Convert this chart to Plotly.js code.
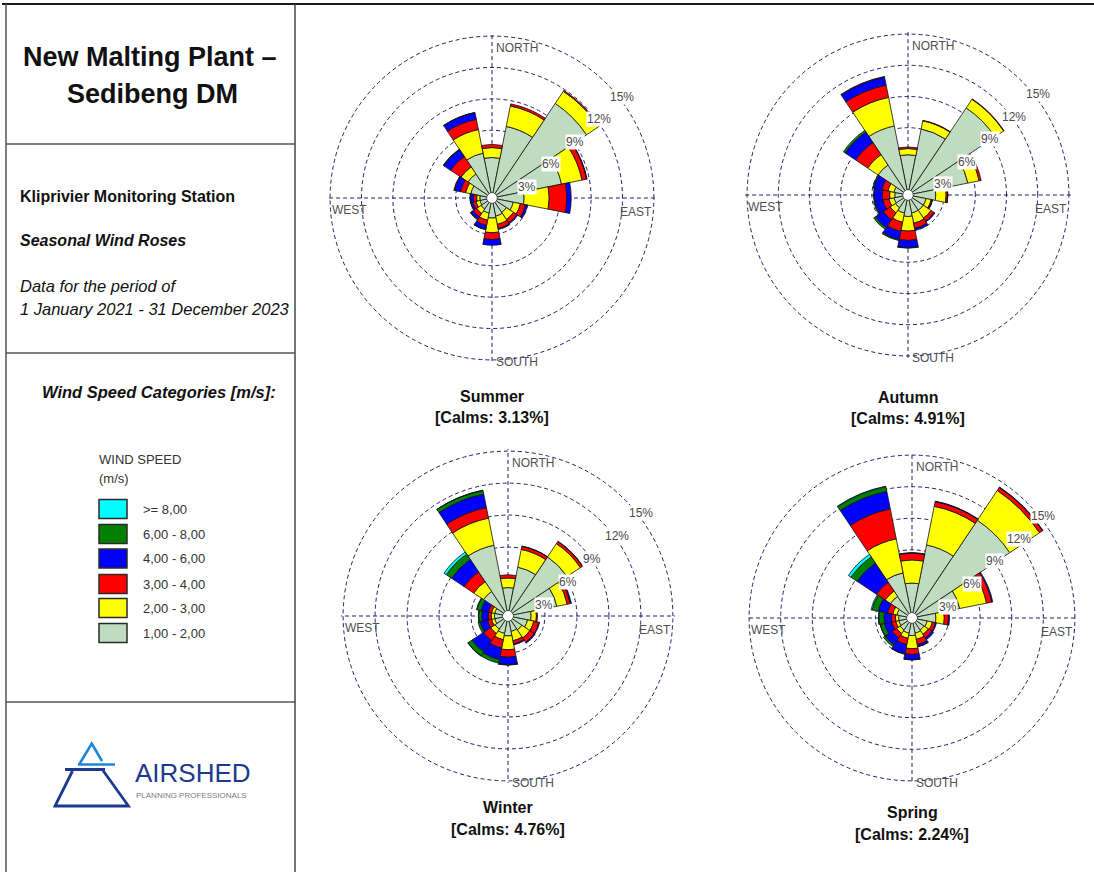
<!DOCTYPE html>
<html><head><meta charset="utf-8">
<script src="https://cdn.plot.ly/plotly-3.0.1.min.js"></script>
<style>html,body{margin:0;padding:0;background:#fff}#chart{width:1094px;height:872px}</style>
</head><body><div id="chart"></div>
<script>
const W = 1094, H = 872;

// ---------------- DATA ----------------
const directions = [0, 22.5, 45, 67.5, 90, 112.5, 135, 157.5, 180, 202.5, 225, 247.5, 270, 292.5, 315, 337.5];
const speedLabels = ['1,00 - 2,00', '2,00 - 3,00', '3,00 - 4,00', '4,00 - 6,00', '6,00 - 8,00', '>= 8,00'];
const speedColors = ['#c0dcc0', '#ffff00', '#ff0000', '#0000ff', '#008000', '#00ffff'];
const seasonNames = ['Summer', 'Autumn', 'Winter', 'Spring'];
const seasonCalms = ['3.13', '4.91', '4.76', '2.24'];
const radialTicks = [3, 6, 9, 12, 15];

// frequencies (%) by direction N..NNW for each speed class
const summer12 = [3.4, 6.5, 10.4, 6.3, 2.6, 1.6, 1.2, 1.3, 1.45, 1.0, 0.8, 0.7, 0.7, 1.6, 2.3, 3.9];
const summer23 = [0.95, 2.0, 1.4, 2.0, 2.4, 0.7, 0.8, 0.8, 1.4, 0.7, 0.5, 0.4, 0.3, 0.5, 0.8, 2.3];
const summer34 = [0.3, 0.2, 0.1, 0.45, 1.7, 0.5, 0.4, 0.4, 0.65, 0.5, 0.4, 0.3, 0.3, 0.5, 1.2, 1.0];
const summer46 = [0, 0, 0, 0.05, 0.4, 0.2, 0.1, 0.1, 0.55, 0.4, 0.3, 0.2, 0.3, 0.6, 0.8, 0.65];
const summer68 = [0, 0, 0, 0, 0, 0, 0, 0, 0, 0.02, 0.03, 0.03, 0.05, 0.05, 0.05, 0.02];
const summer8  = [0, 0, 0, 0, 0, 0, 0, 0, 0, 0, 0, 0, 0, 0, 0, 0];

const autumn12 = [3.4, 6.0, 9.6, 5.4, 2.2, 1.3, 1.3, 1.3, 1.6, 1.3, 1.0, 0.9, 0.8, 0.9, 3.0, 6.3];
const autumn23 = [0.6, 0.8, 1.0, 1.1, 1.0, 0.5, 0.9, 1.0, 1.4, 0.9, 0.6, 0.5, 0.5, 0.6, 1.2, 2.8];
const autumn34 = [0.15, 0.05, 0.05, 0.2, 0.15, 0.1, 0.35, 0.5, 0.9, 0.9, 0.8, 0.6, 0.7, 0.6, 1.4, 1.2];
const autumn46 = [0, 0, 0, 0, 0.02, 0.05, 0.1, 0.2, 0.7, 0.8, 0.9, 0.8, 0.8, 0.8, 1.2, 0.8];
const autumn68 = [0, 0, 0, 0, 0, 0, 0, 0, 0.05, 0.1, 0.2, 0.1, 0.05, 0.1, 0.2, 0.05];
const autumn8  = [0, 0, 0, 0, 0, 0, 0, 0, 0, 0, 0, 0, 0, 0, 0, 0];

const winter12 = [2.2, 4.2, 6.2, 4.2, 1.7, 1.4, 1.1, 1.0, 1.4, 1.2, 1.0, 0.8, 0.8, 0.8, 2.3, 6.3];
const winter23 = [0.9, 1.7, 1.5, 1.0, 0.5, 0.6, 0.9, 0.9, 1.3, 0.6, 0.5, 0.3, 0.3, 0.3, 1.1, 2.6];
const winter34 = [0.3, 0.3, 0.25, 0.3, 0.1, 0.5, 0.5, 0.3, 0.7, 0.8, 0.8, 0.4, 0.3, 0.3, 1.1, 1.0];
const winter46 = [0, 0.02, 0.02, 0.1, 0, 0.05, 0.1, 0.1, 0.7, 1.1, 1.3, 0.7, 0.6, 0.7, 1.4, 1.3];
const winter68 = [0, 0, 0, 0, 0, 0, 0, 0, 0.05, 0.35, 0.45, 0.2, 0.3, 0.4, 0.6, 0.35];
const winter8  = [0, 0, 0, 0, 0, 0, 0, 0, 0, 0, 0.02, 0, 0.02, 0.05, 0.25, 0.02];

const spring12 = [2.85, 6.6, 10.7, 4.15, 1.8, 1.0, 0.9, 1.0, 1.2, 1.0, 0.9, 0.8, 0.8, 1.0, 2.0, 3.9];
const spring23 = [2.2, 3.75, 3.4, 2.6, 0.8, 0.5, 0.5, 0.6, 1.25, 0.5, 0.4, 0.3, 0.3, 0.4, 0.6, 3.3];
const spring34 = [0.65, 0.45, 0.35, 0.5, 0.4, 0.3, 0.4, 0.5, 0.55, 0.6, 0.5, 0.4, 0.4, 0.5, 1.0, 2.9];
const spring46 = [0.05, 0.05, 0.05, 0.1, 0.1, 0.1, 0.2, 0.2, 0.5, 0.9, 0.8, 0.7, 0.7, 0.9, 2.2, 1.7];
const spring68 = [0, 0, 0, 0, 0, 0, 0, 0.02, 0.02, 0.05, 0.2, 0.4, 0.5, 0.6, 0.7, 0.45];
const spring8  = [0, 0, 0, 0, 0, 0, 0, 0, 0, 0, 0, 0.02, 0.02, 0.1, 0.3, 0.05];

const seasonData = [
  [summer12, summer23, summer34, summer46, summer68, summer8],
  [autumn12, autumn23, autumn34, autumn46, autumn68, autumn8],
  [winter12, winter23, winter34, winter46, winter68, winter8],
  [spring12, spring23, spring34, spring46, spring68, spring8]
];

// ---------------- LAYOUT GEOMETRY (pixels) ----------------
const roseGeom = [
  {cx: 492, cy: 198, R: 164, ty: 396},
  {cx: 908, cy: 195, R: 163, ty: 397},
  {cx: 508, cy: 616, R: 167, ty: 807},
  {cx: 912, cy: 618, R: 165, ty: 812}
];
const RMAX = 15.2, HOLE = 0.03;
const FONT = 'Liberation Sans, Arial, sans-serif';
const GRID = '#1f1f66';

const px = x => x / W;
const py = y => 1 - y / H;

const traces = [];
const layout = {
  width: W, height: H, margin: {l: 0, r: 0, t: 0, b: 0},
  paper_bgcolor: '#ffffff', showlegend: false,
  font: {family: FONT},
  shapes: [], annotations: []
};

roseGeom.forEach((g, i) => {
  const key = i === 0 ? 'polar' : 'polar' + (i + 1);
  seasonData[i].forEach((vals, k) => {
    traces.push({
      type: 'barpolar', subplot: key, r: vals, theta: directions,
      name: speedLabels[k],
      marker: {color: speedColors[k], line: {color: '#111111', width: 0.8}},
      hovertemplate: seasonNames[i] + ' %{theta}°: %{r}%<extra>' + speedLabels[k] + '</extra>'
    });
  });
  layout[key] = {
    domain: {x: [px(g.cx - g.R), px(g.cx + g.R)], y: [py(g.cy + g.R), py(g.cy - g.R)]},
    hole: HOLE, bargap: 0, barmode: 'stack', bgcolor: 'rgba(0,0,0,0)',
    radialaxis: {range: [0, RMAX], tickvals: radialTicks, showticklabels: false, ticks: '',
      showline: false, gridcolor: GRID, griddash: '4px,3px', gridwidth: 1.4},
    angularaxis: {direction: 'clockwise', rotation: 90, tickmode: 'array', tickvals: [0, 90, 180, 270],
      showticklabels: false, ticks: '', showline: false, gridcolor: GRID, griddash: '4px,3px', gridwidth: 1.4}
  };
  const rpx = v => g.R * (HOLE + (1 - HOLE) * v / RMAX);
  const f = rpx(15) / 162;
  // radial percentage labels
  radialTicks.forEach(v => {
    const rr = rpx(v);
    layout.annotations.push({
      xref: 'paper', yref: 'paper', x: px(g.cx + 8 * f + 0.756 * rr), y: py(g.cy + 15 * f - 0.719 * rr),
      text: v + '%', showarrow: false, bgcolor: '#ffffff', borderpad: 0,
      font: {size: 12, color: '#4a4a4a', family: FONT}, xanchor: 'center', yanchor: 'middle'
    });
  });
  // compass labels
  const cf = {size: 12, color: '#505050', family: FONT};
  layout.annotations.push(
    {xref: 'paper', yref: 'paper', x: px(g.cx + 2), y: py(g.cy - 150 * f), text: 'NORTH', showarrow: false, xanchor: 'left', yanchor: 'middle', font: cf},
    {xref: 'paper', yref: 'paper', x: px(g.cx + 144 * f), y: py(g.cy + 14), text: 'EAST', showarrow: false, xanchor: 'center', yanchor: 'middle', font: cf},
    {xref: 'paper', yref: 'paper', x: px(g.cx - 143 * f), y: py(g.cy + 12), text: 'WEST', showarrow: false, xanchor: 'center', yanchor: 'middle', font: cf},
    {xref: 'paper', yref: 'paper', x: px(g.cx + 2), y: py(g.cy + 155 * f), text: 'SOUTH', showarrow: false, xanchor: 'left', yanchor: 'top', font: cf}
  );
  // season titles
  const tf = {size: 16, color: '#111111', family: FONT};
  layout.annotations.push(
    {xref: 'paper', yref: 'paper', x: px(g.cx), y: py(g.ty), text: '<b>' + seasonNames[i] + '</b>', showarrow: false, xanchor: 'center', yanchor: 'middle', font: tf},
    {xref: 'paper', yref: 'paper', x: px(g.cx), y: py(g.ty + 22), text: '<b>[Calms: ' + seasonCalms[i] + '%]</b>', showarrow: false, xanchor: 'center', yanchor: 'middle', font: tf}
  );
});

// ---------------- LEFT PANEL ----------------
function line(x0, y0, x1, y1, color, width) {
  layout.shapes.push({type: 'line', xref: 'paper', yref: 'paper', x0: px(x0), y0: py(y0), x1: px(x1), y1: py(y1),
    line: {color: color, width: width}});
}
line(2, 4, 1094, 4, '#1a1a1a', 2);
line(6, 4, 6, 872, '#555555', 1.5);
line(295, 4, 295, 872, '#444444', 1.5);
line(6, 144, 295, 144, '#555555', 1.5);
line(6, 353, 295, 353, '#555555', 1.5);
line(6, 702, 295, 702, '#555555', 1.5);

function txt(x, y, text, size, opts) {
  opts = opts || {};
  layout.annotations.push({xref: 'paper', yref: 'paper', x: px(x), y: py(y), text: text, showarrow: false,
    xanchor: opts.xanchor || 'left', yanchor: 'middle', borderpad: 0,
    font: {size: size, color: opts.color || '#111111', family: opts.family || FONT}});
}
txt(150, 57, '<b>New Malting Plant –</b>', 27, {xanchor: 'center'});
txt(152, 94, '<b>Sedibeng DM</b>', 27, {xanchor: 'center'});
txt(19, 196, '<b>Kliprivier Monitoring Station</b>', 16);
txt(19, 241, '<b><i>Seasonal Wind Roses</i></b>', 16);
txt(19, 286, '<i>Data for the period of</i>', 16.5);
txt(19, 309, '<i>1 January 2021 - 31 December 2023</i>', 16.5);
txt(41, 392, '<b><i>Wind Speed Categories [m/s]:</i></b>', 16.5);

// legend
txt(98, 460, 'WIND SPEED', 13, {color: '#333333'});
txt(98, 478, '(m/s)', 13, {color: '#333333'});
const legendY = [633, 608, 584, 558.5, 534, 509];
speedLabels.forEach((lab, k) => {
  const yc = legendY[k];
  layout.shapes.push({type: 'rect', xref: 'paper', yref: 'paper', x0: px(99), x1: px(127), y0: py(yc + 9.5), y1: py(yc - 9.5),
    fillcolor: speedColors[k], line: {color: '#2a2a2a', width: 1.5}});
  txt(142, yc, lab, 13, {color: '#333333'});
});

// logo
function path(pts, color, width) {
  const d = pts.map((p, j) => (j === 0 ? 'M' : 'L') + px(p[0]) + ',' + py(p[1])).join(' ');
  layout.shapes.push({type: 'path', xref: 'paper', yref: 'paper', path: d, line: {color: color, width: width}});
}
const LB = '#1f86d6', DB = '#1b3a8f';
path([[79.5, 764], [91.7, 743.5], [102, 761]], LB, 2.6);
path([[78, 764.5], [115, 764.5]], LB, 2.6);
path([[65, 769.5], [105, 769.5]], DB, 2.8);
path([[72.5, 771], [55, 806], [128.5, 806], [103, 770.5]], DB, 2.8);
txt(134, 773, 'AIRSHED', 26, {color: DB});
txt(135, 795, 'PLANNING PROFESSIONALS', 8, {color: '#7b7b7b'});

Plotly.newPlot('chart', traces, layout, {displayModeBar: false});
</script>
</body></html>
